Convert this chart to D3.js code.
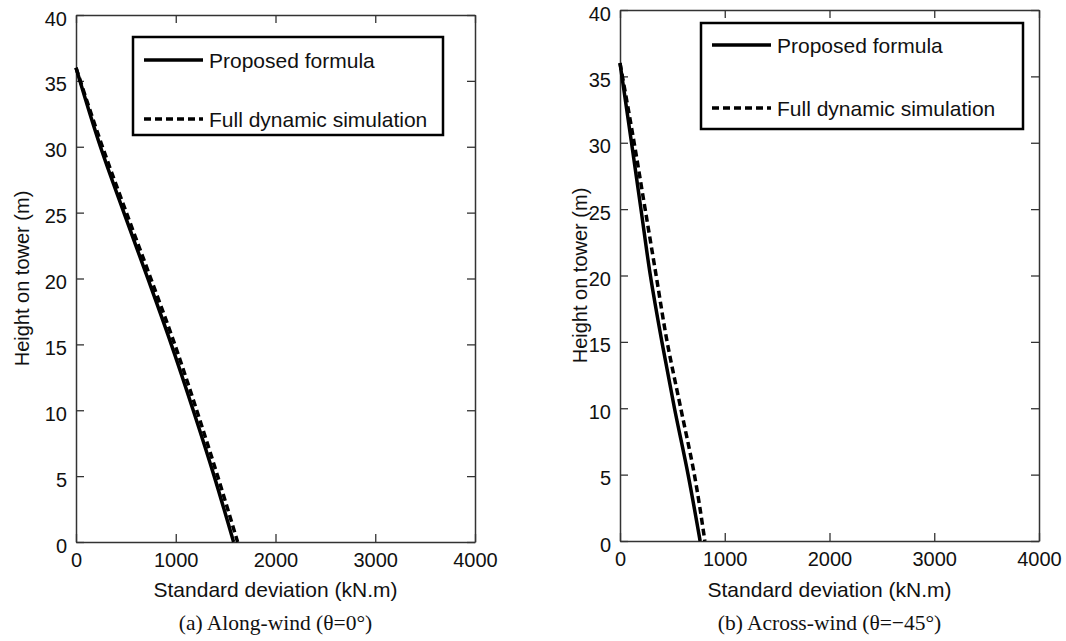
<!DOCTYPE html>
<html><head><meta charset="utf-8">
<script src="https://cdn.jsdelivr.net/npm/d3@7"></script>
<style>body{margin:0;background:#fff}</style></head>
<body><svg id="c" width="1066" height="641"></svg>
<script>
const xTicks=[0,1000,2000,3000,4000];
const yTicks=[0,5,10,15,20,25,30,35,40];
const heights=[36,30,25,20,15,10,5,0];
// (a) Along-wind
const aProposed=[0,245,480,720,955,1175,1385,1580];
const aFull=[0,265,505,750,990,1210,1420,1620];
// (b) Across-wind
const bProposed=[0,110,200,290,400,520,650,765];
const bFull=[0,135,240,345,450,580,710,810];
const legendLabels=["Proposed formula","Full dynamic simulation"];
const captions=["(a) Along-wind (θ=0°)","(b) Across-wind (θ=\u221245°)"];

const svg=d3.select("#c");
const panels=[
 {x0:76,x1:475,y0:15,y1:542,s:[aProposed,aFull],leg:{x:133,y:37,w:310,h:98,l1:60,l2:119},ty:22,cap:captions[0]},
 {x0:620,x1:1039,y0:10,y1:541,s:[bProposed,bFull],leg:{x:701,y:23,w:322,h:106,l1:45,l2:108},ty:580,cap:captions[1]}
];
const font="Liberation Sans, Arial, sans-serif";
panels.forEach(p=>{
 const g=svg.append("g");
 const x=d3.scaleLinear().domain([0,4000]).range([p.x0,p.x1]);
 const y=d3.scaleLinear().domain([0,40]).range([p.y1,p.y0]);
 const tl=8;
 const ax=[
  g.append("g").attr("transform",`translate(0,${p.y1})`).call(d3.axisBottom(x).tickValues(xTicks).tickSizeInner(-tl).tickSizeOuter(0).tickPadding(11).tickFormat(d3.format("d"))),
  g.append("g").attr("transform",`translate(${p.x0},0)`).call(d3.axisLeft(y).tickValues(yTicks).tickSizeInner(-tl).tickSizeOuter(0).tickPadding(9)),
  g.append("g").attr("transform",`translate(0,${p.y0})`).call(d3.axisTop(x).tickValues(xTicks).tickSizeInner(-tl).tickSizeOuter(0).tickFormat("")),
  g.append("g").attr("transform",`translate(${p.x1},0)`).call(d3.axisRight(y).tickValues(yTicks).tickSizeInner(-tl).tickSizeOuter(0).tickFormat(""))
 ];
 ax.forEach(a=>{a.select(".domain").attr("stroke","#333").attr("stroke-width",1.5);
  a.selectAll(".tick line").attr("stroke","#333").attr("stroke-width",1.3);
  a.selectAll("text").attr("font-family",font).attr("font-size",20).attr("fill","#111");});
 ax[1].selectAll(".tick text").attr("dy","0.5em");
 // lines
 const line=d3.line().x(d=>x(d[0])).y(d=>y(d[1])).curve(d3.curveMonotoneY);
 g.append("path").datum(p.s[0].map((v,i)=>[v,heights[i]])).attr("d",line).attr("fill","none").attr("stroke","#000").attr("stroke-width",3.5);
 g.append("path").datum(p.s[1].map((v,i)=>[v,heights[i]])).attr("d",line).attr("fill","none").attr("stroke","#000").attr("stroke-width",3.5).attr("stroke-dasharray","7,4");
 // legend
 const L=p.leg;
 g.append("rect").attr("x",L.x).attr("y",L.y).attr("width",L.w).attr("height",L.h).attr("fill","#fff").attr("stroke","#000").attr("stroke-width",2.5);
 const ly=[L.l1,L.l2];
 legendLabels.forEach((t,i)=>{
  g.append("line").attr("x1",L.x+11).attr("x2",L.x+70).attr("y1",ly[i]).attr("y2",ly[i]).attr("stroke","#000").attr("stroke-width",3.5).attr("stroke-dasharray",i?"7,4":null);
  g.append("text").attr("x",L.x+76).attr("y",ly[i]+8).attr("font-family",font).attr("font-size",21).attr("fill","#111").text(t);
 });
 // axis titles
 g.append("text").attr("x",(p.x0+p.x1)/2).attr("y",597).attr("text-anchor","middle").attr("font-family",font).attr("font-size",21).attr("fill","#111").text("Standard deviation (kN.m)");
 g.append("text").attr("transform",`translate(${p.ty},${(p.y0+p.y1)/2}) rotate(-90)`).attr("text-anchor","middle").attr("dy","0.35em").attr("font-family",font).attr("font-size",20).attr("fill","#111").text("Height on tower (m)");
 g.append("text").attr("x",(p.x0+p.x1)/2).attr("y",630).attr("text-anchor","middle").attr("font-family","Liberation Serif, Times New Roman, serif").attr("font-size",21.5).attr("fill","#111").text(p.cap);
});
</script></body></html>
